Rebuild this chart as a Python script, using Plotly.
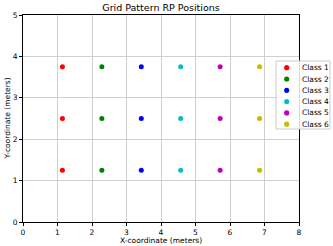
import plotly.graph_objects as go

classes = ["Class 1", "Class 2", "Class 3", "Class 4", "Class 5", "Class 6"]
colors = ["#ff0000", "#008000", "#0000ff", "#00bfbf", "#bf00bf", "#bfbf00"]
class_x = [1.143, 2.286, 3.429, 4.571, 5.714, 6.857]
row_y = [1.25, 2.5, 3.75]
x_ticks = [0, 1, 2, 3, 4, 5, 6, 7, 8]
y_ticks = [0, 1, 2, 3, 4, 5]

W, H = 333, 246
ML, MR, MT, MB = 23, 3, 15, 24
PW = W - ML - MR
PH = H - MT - MB
plot_right = 299
font = "DejaVu Sans"


def px(x):
    return (x - ML) / PW


def py(y):
    return (MT + PH - y) / PH


fig = go.Figure()
for name, c, xv in zip(classes, colors, class_x):
    fig.add_trace(go.Scatter(
        x=[xv] * len(row_y), y=row_y, mode="markers", name=name,
        marker=dict(color=c, size=5, line=dict(width=0)),
        showlegend=False))

# custom legend box (layout positions in pixels converted to paper coordinates)
leg_x0, leg_x1, leg_y0, leg_y1 = 276, 330, 61, 129
first_y, step, r = 67.7, 11.3, 2.6
fig.add_shape(type="rect", xref="paper", yref="paper",
              x0=px(leg_x0), x1=px(leg_x1), y0=py(leg_y1), y1=py(leg_y0),
              fillcolor="rgba(255,255,255,0.85)", line=dict(color="#cccccc", width=1), layer="above")
for i, (name, c) in enumerate(zip(classes, colors)):
    cy = first_y + i * step
    fig.add_shape(type="circle", xref="paper", yref="paper",
                  x0=px(286.7 - r), x1=px(286.7 + r), y0=py(cy + r), y1=py(cy - r),
                  fillcolor=c, line=dict(width=0), layer="above")
    fig.add_annotation(x=px(299.5), y=py(cy), xref="paper", yref="paper", text=name,
                       showarrow=False, xanchor="left", yanchor="middle",
                       font=dict(family=font, size=7.5, color="black"))

# axis titles
fig.add_annotation(x=px((ML + plot_right) / 2), y=py(240), xref="paper", yref="paper",
                   text="X-coordinate (meters)", showarrow=False,
                   xanchor="center", yanchor="middle",
                   font=dict(family=font, size=7.5, color="black"))
fig.add_annotation(x=px(7), y=py(MT + PH / 2), xref="paper", yref="paper",
                   text="Y-coordinate (meters)", showarrow=False, textangle=-90,
                   xanchor="center", yanchor="middle",
                   font=dict(family=font, size=7.5, color="black"))

axis_common = dict(showline=True, mirror=True, linecolor="black", linewidth=1,
                   ticks="outside", ticklen=3, tickcolor="black", tickwidth=1,
                   showgrid=True, gridcolor="#cfcfcf", gridwidth=1, zeroline=False,
                   automargin=False,
                   tickfont=dict(family=font, size=7.5, color="black"))

fig.update_layout(
    width=W, height=H,
    margin=dict(l=ML, r=MR, t=MT, b=MB),
    paper_bgcolor="white", plot_bgcolor="white",
    hovermode=False,
    title=dict(text="Grid Pattern RP Positions", x=(ML + plot_right) / 2 / W, xanchor="center",
               y=1 - 7.5 / H, yanchor="middle", font=dict(family=font, size=9.5, color="black"),
               automargin=False),
    xaxis=dict(range=[0, 8], tickvals=x_ticks, domain=[0, (plot_right - ML) / PW], **axis_common),
    yaxis=dict(range=[0, 5], tickvals=y_ticks, **axis_common),
    showlegend=False,
)

fig.write_html("out.html", config={"displayModeBar": False},
               post_script="document.body.style.margin='0';")
